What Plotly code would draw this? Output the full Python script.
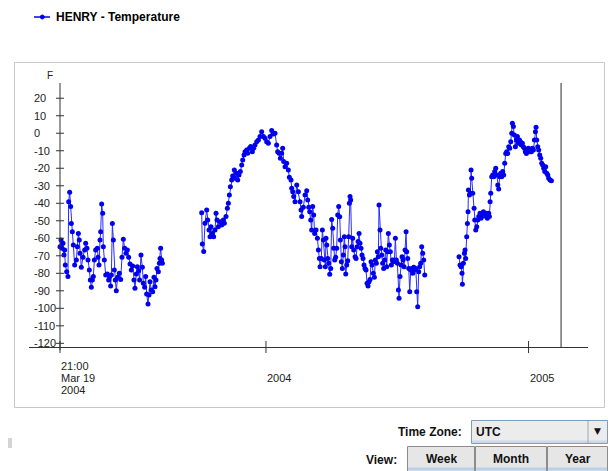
import pandas as pd
import plotly.graph_objects as go

# ---------------- data ----------------
START = "2003-03-19 21:00"          # first sample time (labelled "21:00 Mar 19 2004" in the source)
SERIES_NAME = "HENRY - Temperature"
Y_UNIT = "F"

seg1_day = [0, 1.4, 2.8, 4.2, 5.6, 6.5, 7.4, 9.3, 11.1, 12.1, 13.5, 14.9, 15.8, 17.2, 18.6, 20.4, 22.8, 24.2, 25.6, 26.9,
            27.9, 29.7, 32.1, 34.4, 35.8, 37.6, 39, 40.9, 42.3, 43.7, 45.1, 46.5, 47.9, 49.7, 52, 53, 54.4, 55.8, 56.7, 58.1,
            59.5, 60.4, 61.8, 63.7, 66, 67.8, 69.2, 70.6, 71.6, 73, 74.4, 75.7, 77.1, 78.5, 80.4, 82.7, 84.6, 86.4, 88.3, 90.1,
            92, 93.9, 95.7, 97.6, 99.4, 101.3, 103.1, 104.5, 106.4, 107.8, 109.7, 111, 112.9, 114.8, 116.2, 118, 119.4, 120.8,
            122.7, 124.1, 125.5, 127.3, 129.2, 131, 132.4, 133.8, 135.2, 137.1, 138.5, 139.4, 140.3, 141.7, 142.7]
seg1_temp = [-64.8, -61, -65.7, -62.9, -69.6, -66.7, -75.3, -79.1, -81.9, -39.1, -33.7, -41.9, -51.5, -56.2, -63.8, -75.3,
             -72.4, -64.8, -57.2, -61, -68.6, -76.6, -70.9, -66.7, -62.9, -65.7, -72.4, -78.1, -83.8, -88, -83.8, -81.9,
             -72.4, -66.7, -65.7, -70.9, -75.3, -61, -56.2, -40.4, -45.7, -64.8, -72.4, -81, -80.4, -83.8, -81.9, -87.3,
             -81, -51.5, -61, -78.1, -83.8, -89.9, -82.3, -80, -83.5, -70.9, -60.6, -65.7, -68.6, -66.7, -70.9, -74.7,
             -78.1, -75.8, -83.8, -88.6, -80.4, -76.2, -78.5, -83.8, -69.6, -76.6, -85.7, -88, -81.9, -91.8, -97.6, -92.4,
             -84.8, -89.6, -90.5, -82.3, -87.7, -83.8, -77.2, -79.1, -74.3, -71.5, -65.7, -72.4, -74.3]

seg2_day = [197.5, 198.4, 200.3, 202.1, 204.5, 205.9, 207.7, 209.1, 210.5, 212.4, 214.2, 216.1, 217.5, 218.9, 220.7, 223.1,
            225.4, 227.7, 229.1, 231.4, 233.3, 234.7, 236.1, 237.5, 239.3, 240.7, 243, 244, 246.3, 247.7, 249.5, 251.4,
            253.3, 254.7, 256.5, 257.9, 260.2, 261.6, 263.9, 265.8, 268.1, 270, 271.8, 274.2, 276.5, 278.8, 281.1, 283.5,
            285.8, 288.1, 290.4, 292.8, 295.1, 297.4, 299.7, 302, 303.4, 305.3, 307.2, 309, 310.4, 311.8, 313.7, 316,
            318.3, 319.7, 322, 323, 324.4, 325.8, 327.6, 330, 332.3, 334.6, 336, 336.9, 339.2, 341.6, 343.9, 345.3,
            346.7, 348.1, 349.5, 350.8, 352.2, 353.6, 355,
            356.9, 358.8, 360.2, 361.6, 362.5, 364.3, 365.7, 367.1, 368.5, 369.9, 370.8, 371.8, 373.2, 374.6, 376, 377.4,
            378.7, 380.1, 381.5, 382.9, 384.3, 385.7, 387.1, 388.5, 389.9, 390.8, 392.2, 393.6, 395, 396.4, 397.3, 398.3,
            399.7, 401.1, 402.4, 403.4, 404.3, 405.2, 406.6, 408, 409.4, 411.3, 412.7, 414.1, 415.5, 416.9, 418.2, 419.6,
            421, 422.4, 423.8, 425.2, 426.6, 428, 429.4, 430.8, 432.2, 433.6, 435, 436.8, 438.2, 439.6, 441, 442.4, 443.8,
            444.7, 446.1, 447.1, 448.5, 449.8, 451.2, 452.6, 454, 455.4, 456.8, 457.7, 459.1, 460.5, 461.9, 463.3, 464.7,
            466.1, 467.5, 468.9, 470.3, 471.7, 472.6, 474, 475.4, 476.8, 478.2, 479.6, 481, 482.4, 483.3, 484.7, 486.1,
            487.5, 488.9, 490.3, 491.7, 493.1, 494.5, 495.9, 497.2, 498.6, 500, 501.4, 502.8, 504.2, 505.6, 507, 508.4]
seg2_temp = [-45.4, -63.3, -67.6, -51.4, -43.8, -49.5, -55.3, -59.1, -53.4, -57.2, -59.1, -55.3, -45.7, -49.5, -53.4, -50.5,
             -52.4, -49.5, -51.4, -47.6, -42.9, -40, -35.3, -30.5, -26.7, -24.4, -21, -25.7, -22.9, -26.7, -23.8, -21.9,
             -18.1, -15.3, -12.4, -10.5, -9.5, -11.4, -8.6, -7.6, -10.5, -8.6, -6.7, -4.8, -3.8, -1.9, 0.9, -1.9,
             -2.9, -4.8, -5.7, -1.9, 1.5, -0.4, 0, -6.7, -10.5, -11.4, -14.3, -11.4, -8.6, -16.2, -19.1, -17.2,
             -21, -25.2, -26.7, -31.4, -33.4, -36.2, -39.1, -29.5, -33.4, -39.1, -43.8, -47.6, -42.3, -35.3, -32.8, -38.1,
             -42.3, -44.8, -49.5, -55.3, -41.9, -46.7, -57.2,
             -55.3, -60, -66.7, -71.5, -76.2, -71.5, -55.3, -61, -72.4, -76.2, -60, -63.8, -71.5, -74.3, -80.6, -77.2,
             -49.2, -54.3, -65.7, -72.4, -70.9, -65.7, -46.7, -41.9, -47.7, -61, -73.4, -77.2, -69.6, -59.1, -64.8, -80.4,
             -75.3, -72.8, -59.1, -40, -36.2, -38.1, -64.8, -60, -66.7, -70.5, -71.5, -64.8, -61.9, -57.2, -62.9, -65.7,
             -69.6, -71.5, -75.3, -77.2, -78.1, -85.7, -87.3, -84.8, -83.5, -73.4, -75.3, -80, -82.3, -72.4, -74.3, -67.7,
             -70.5, -41, -55.3, -65.7, -69.6, -74.3, -77.2, -72.4, -66.7, -76.2, -67.7, -57.2, -63.8, -67.7, -75.3, -72.4,
             -73.4, -72.4, -60, -72.4, -74.3, -89.6, -94.3, -81.9, -75.3, -70.5, -72.4, -76.2, -66.7, -56.2, -67.7, -71.5,
             -77.2, -90.5, -78.1, -77.2, -80, -76.6, -78.1, -77.2, -90.5, -99.1, -79.1, -76.2, -74.3, -64.8, -68.6, -72.4, -81]

seg3_day = [556.2, 557.6, 559, 560.4, 560.9, 562.3, 563.7, 564.6, 565.5, 566.9, 567.9, 568.8, 569.3, 570.7, 572, 573,
            573.9, 575.3, 577.2, 578.1, 579.5, 580.9, 582.3, 583.7, 585.5, 586.9, 588.3, 590.2, 592, 593.9, 595.7, 597.6,
            598.5, 599.5, 600.4, 601.8, 603.2, 604.6, 606, 607.4, 608.8, 610.2, 611.5, 612.9, 614.3, 615.7, 617.1, 618.5,
            619.9, 621.3, 622.7, 624.1, 625.5, 626.9, 628.3, 629.7, 630.6, 632, 633.4, 634.8, 636.2, 637.6, 639, 640.4,
            641.8, 643.1, 644.5, 645.9, 647.3, 648.7, 650.1, 651.5, 652.9, 654.3, 655.7, 657.1, 658.5, 659.9, 661.3, 662.7,
            663.6, 664.5, 665.9, 667.3, 668.7, 670.1, 671.5, 672.9, 674.3, 675.7, 677.1, 678.5, 679.9, 681.2, 683.1, 685]
seg3_temp = [-70.5, -75.3, -76.2, -80, -86.3, -74.3, -68.6, -66.7, -71.5, -59.1, -51.5, -44.8, -32.4, -35.3, -34.3, -21,
             -25.7, -34.3, -42.9, -49.5, -55.3, -53.4, -49.5, -47.6, -45.7, -48.6, -46.7, -44.8, -47.3, -45.7, -48.6, -45.7,
             -47.6, -39.1, -34.3, -24.8, -23.8, -24.8, -21.9, -20, -23.8, -29.6, -31.8, -24.8, -22.9, -24.8, -21.9, -23.8,
             -17.2, -11.5, -10.5, -11.5, -7.7, -8.6, -4.8, 0, 5.7, 3.8, -1, -7.7, -3.8, -1.9, -5.7, -3.8,
             -4.8, -6.7, -5.7, -7.7, -8.6, -10.5, -11.5, -9.6, -8.6, -10.5, -9.6, -10.5, -8.6, -9.6, -3.8, 0.9,
             3.4, -3.8, -7.7, -9.6, -12.4, -14.3, -17.2, -18.1, -20, -21.9, -19.1, -22.9, -23.8, -25.7, -26.7, -27.1]

END_MARKER_DAY = 698.5  # vertical end-of-range marker

y_ticks = [20, 10, 0, -10, -20, -30, -40, -50, -60, -70, -80, -90, -100, -110, -120]
x_tick_dates = ["2003-03-19 21:00", "2004-01-01", "2005-01-01"]
x_tick_text = ["21:00\nMar 19\n2004", "2004", "2005"]
time_zone = "UTC"
view_buttons = ["Week", "Month", "Year"]

# ---------------- build ----------------
start = pd.Timestamp(START)


def to_dates(days):
    return list(start + pd.to_timedelta(pd.Series(days, dtype=float), unit="D"))


xs, ys = [], []
for d, t in [(seg1_day, seg1_temp), (seg2_day, seg2_temp), (seg3_day, seg3_temp)]:
    xs += to_dates(d) + [None]
    ys += list(t) + [None]

W, H = 611, 471
L, R, T, B = 29, 588, 83, 347   # plot area in pixels
YMIN, YMAX = -122.1, 28.7
FONT = "Liberation Sans, Arial, sans-serif"


def pxx(p):
    return (p - L) / (R - L)


def pyy(p):
    return (B - p) / (B - T)


fig = go.Figure()
fig.add_trace(go.Scatter(
    x=xs, y=ys, mode="lines+markers", name=SERIES_NAME,
    line=dict(color="#2b2bff", width=1),
    marker=dict(color="#0000ee", size=5, symbol="circle"),
    connectgaps=False, showlegend=False,
))

shapes = []
annotations = []

# outer frame
shapes.append(dict(type="rect", xref="paper", yref="paper", x0=pxx(14.5), x1=pxx(604.5), y0=pyy(407.5), y1=pyy(62.5),
                   line=dict(color="#c8c8c8", width=1), fillcolor="rgba(0,0,0,0)", layer="below"))

# y axis line at start date
shapes.append(dict(type="line", xref="x", yref="paper", x0=start, x1=start, y0=pyy(350), y1=1,
                   line=dict(color="#333333", width=1)))
# y ticks (crossing)
for v in y_ticks:
    shapes.append(dict(type="line", xref="x", xsizemode="pixel", xanchor=start, x0=-4, x1=4,
                       yref="y", y0=v, y1=v, line=dict(color="#333333", width=1)))
    annotations.append(dict(xref="paper", x=pxx(33), xanchor="left", xshift=-1, yref="y", y=v, yanchor="middle",
                            text=str(v), showarrow=False, font=dict(family=FONT, size=11, color="#222222")))
# x ticks (crossing)
for dstr, txt in zip(x_tick_dates, x_tick_text):
    shapes.append(dict(type="line", xref="x", x0=dstr, x1=dstr, yref="paper", ysizemode="pixel", yanchor=0,
                       y0=-6, y1=6, line=dict(color="#333333", width=1)))
    lines = txt.split("\n")
    n = len(lines)
    for i, ln in enumerate(lines):
        cy = 378 + 12 * (i - (n - 1) / 2)
        annotations.append(dict(xref="x", x=dstr, xanchor="left", xshift=-1, yref="paper", y=pyy(cy),
                                yanchor="middle", text=ln, showarrow=False,
                                font=dict(family=FONT, size=11, color="#222222")))

# end-of-range marker
end_date = start + pd.Timedelta(days=END_MARKER_DAY)
shapes.append(dict(type="line", xref="x", yref="paper", x0=end_date, x1=end_date, y0=0, y1=1,
                   line=dict(color="#707070", width=1.5)))

# unit label
annotations.append(dict(xref="paper", yref="paper", x=pxx(50), y=pyy(75), text=Y_UNIT, showarrow=False,
                        xanchor="center", yanchor="middle", font=dict(family=FONT, size=10, color="#222222")))

# legend
shapes.append(dict(type="line", xref="paper", yref="paper", x0=pxx(34), x1=pxx(50), y0=pyy(17), y1=pyy(17),
                   line=dict(color="#0000ee", width=1.5)))
shapes.append(dict(type="circle", xref="paper", yref="paper", x0=pxx(40.3), x1=pxx(44.3), y0=pyy(19), y1=pyy(15),
                   line=dict(color="#0000ee", width=1), fillcolor="#0000ee"))
annotations.append(dict(xref="paper", yref="paper", x=pxx(54), y=pyy(17), xanchor="left", yanchor="middle",
                        text="<b>" + SERIES_NAME + "</b>", showarrow=False,
                        font=dict(family=FONT, size=12, color="#000000")))

# small grip glyph bottom-left
shapes.append(dict(type="rect", xref="paper", yref="paper", x0=pxx(8), x1=pxx(12), y0=pyy(448), y1=pyy(438),
                   line=dict(width=0), fillcolor="#d4d4d4"))

# time zone selector
annotations.append(dict(xref="paper", yref="paper", x=pxx(464), y=pyy(432), xanchor="right", yanchor="middle",
                        text="<b>Time Zone:</b>", showarrow=False, font=dict(family=FONT, size=12, color="#111111")))
shapes.append(dict(type="rect", xref="paper", yref="paper", x0=pxx(471.5), x1=pxx(607.5), y0=pyy(443.5), y1=pyy(420.5),
                   line=dict(color="#7f9db9", width=1), fillcolor="#ececec"))
shapes.append(dict(type="rect", xref="paper", yref="paper", x0=pxx(472), x1=pxx(607), y0=pyy(443), y1=pyy(440.5),
                   line=dict(width=0), fillcolor="#c9d8ec"))
shapes.append(dict(type="line", xref="paper", yref="paper", x0=pxx(588), x1=pxx(588), y0=pyy(443), y1=pyy(421),
                   line=dict(color="#9aa9bd", width=1)))
annotations.append(dict(xref="paper", yref="paper", x=pxx(474), y=pyy(432), xanchor="left", yanchor="middle",
                        text="<b>" + time_zone + "</b>", showarrow=False, font=dict(family=FONT, size=12, color="#111111")))
annotations.append(dict(xref="paper", yref="paper", x=pxx(598), y=pyy(431), xanchor="center", yanchor="middle",
                        text="▼", showarrow=False, font=dict(family="DejaVu Sans", size=9, color="#111111")))

# view buttons
annotations.append(dict(xref="paper", yref="paper", x=pxx(399), y=pyy(460), xanchor="right", yanchor="middle",
                        text="<b>View:</b>", showarrow=False, font=dict(family=FONT, size=12, color="#111111")))
btn_edges = [407, 475, 547, 608]
for i, lab in enumerate(view_buttons):
    x0, x1 = btn_edges[i], btn_edges[i + 1]
    shapes.append(dict(type="rect", xref="paper", yref="paper", x0=pxx(x0 + 0.5), x1=pxx(x1 - 0.5),
                       y0=pyy(474), y1=pyy(446.5), line=dict(color="#8c8c8c", width=1), fillcolor="#e6e6e6"))
    shapes.append(dict(type="rect", xref="paper", yref="paper", x0=pxx(x0 + 1), x1=pxx(x1 - 1),
                       y0=pyy(470.5), y1=pyy(467.5), line=dict(width=0), fillcolor="#bccfe8"))
    annotations.append(dict(xref="paper", yref="paper", x=pxx((x0 + x1) / 2), y=pyy(459), xanchor="center",
                            yanchor="middle", text="<b>" + lab + "</b>", showarrow=False,
                            font=dict(family=FONT, size=12, color="#111111")))

x_range = [start + pd.Timedelta(days=-43.2), start + pd.Timedelta(days=736.0)]

fig.update_layout(
    width=W, height=H,
    margin=dict(l=L, r=W - R, t=T, b=H - B, pad=0),
    paper_bgcolor="white", plot_bgcolor="white",
    font=dict(family=FONT, size=11, color="#222222"),
    xaxis=dict(type="date", range=x_range, showgrid=False, zeroline=False, showticklabels=False, ticks="",
               showline=True, linecolor="#333333", linewidth=1, mirror=False, fixedrange=True),
    yaxis=dict(range=[YMIN, YMAX], showgrid=False, zeroline=False, showticklabels=False, ticks="",
               showline=False, fixedrange=True),
    shapes=shapes, annotations=annotations, showlegend=False,
)

fig.write_html("out.html", config={"displayModeBar": False},
               post_script="document.body.style.margin='0px';document.body.style.overflow='hidden';")
